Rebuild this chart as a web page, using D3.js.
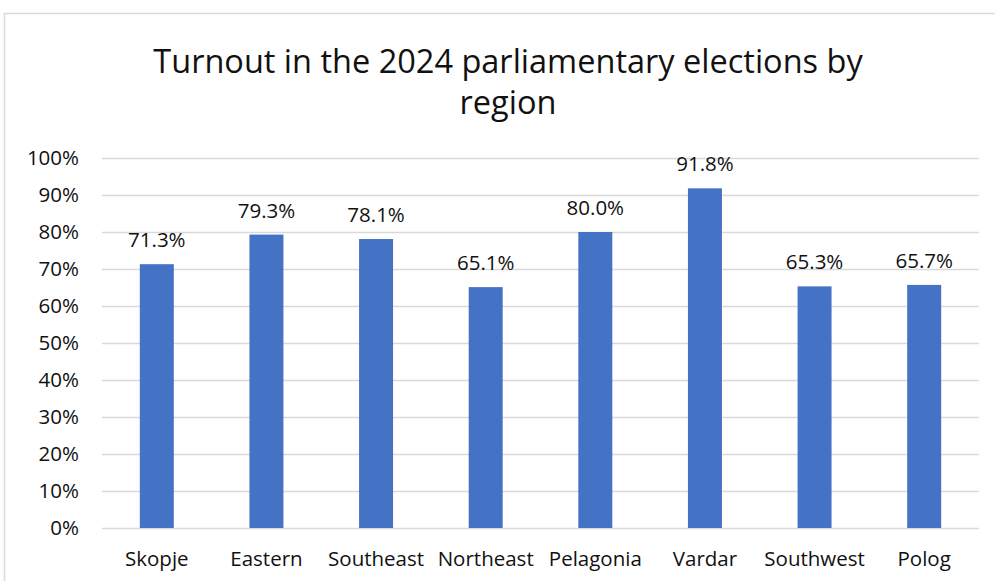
<!DOCTYPE html>
<html>
<head>
<meta charset="utf-8">
<script src="https://cdn.jsdelivr.net/npm/d3@7"></script>
<style>
  html, body { margin: 0; padding: 0; background: #fff; }
  svg { display: block; }
  text { font-family: "Open Sans", "Liberation Sans", sans-serif; fill: #111; }
</style>
</head>
<body>
<svg id="chart" width="995" height="581"></svg>
<script>
// Turnout by region (share of registered voters)
const regions = ["Skopje", "Eastern", "Southeast", "Northeast", "Pelagonia", "Vardar", "Southwest", "Polog"];
const turnout = [71.3, 79.3, 78.1, 65.1, 80.0, 91.8, 65.3, 65.7];
const yTicks = [0, 10, 20, 30, 40, 50, 60, 70, 80, 90, 100];
const titleLines = ["Turnout in the 2024 parliamentary elections by", "region"];

const W = 995, H = 581;
const margin = { left: 102, right: 16, top: 158, bottom: 53 };
const labelSize = 20.5;
const svg = d3.select("#chart");

// chart frame
svg.append("rect")
  .attr("x", 4.5).attr("y", 13.5)
  .attr("width", W + 10).attr("height", H + 10)
  .attr("fill", "#fff").attr("stroke", "#d9d9d9").attr("stroke-width", 1.5);

const x = d3.scaleBand()
  .domain(regions)
  .range([margin.left, W - margin.right])
  .paddingInner(0.69).paddingOuter(0.345);

const y = d3.scaleLinear()
  .domain([0, 100])
  .range([H - margin.bottom, margin.top]);

// gridlines + y labels
const yAxis = svg.append("g")
  .attr("transform", `translate(${margin.left},0)`)
  .call(d3.axisLeft(y).tickValues(yTicks).tickFormat(d => d + "%")
    .tickSize(-(W - margin.right - margin.left)).tickPadding(23));
yAxis.select(".domain").remove();
yAxis.selectAll(".tick line").attr("stroke", "#d9d9d9").attr("stroke-width", 1.5);
yAxis.selectAll(".tick text")
  .attr("font-size", labelSize).attr("fill", "#111")
  .style("font-family", "'Open Sans', sans-serif");

// bars
svg.append("g").selectAll("rect")
  .data(regions)
  .join("rect")
  .attr("x", d => x(d))
  .attr("width", x.bandwidth())
  .attr("y", (d, i) => y(turnout[i]))
  .attr("height", (d, i) => y(0) - y(turnout[i]))
  .attr("fill", "#4472c4");

// value labels
svg.append("g").selectAll("text")
  .data(regions)
  .join("text")
  .attr("x", d => x(d) + x.bandwidth() / 2)
  .attr("y", (d, i) => y(turnout[i]) - 17)
  .attr("text-anchor", "middle")
  .attr("font-size", labelSize)
  .text((d, i) => turnout[i].toFixed(1) + "%");

// category axis
const xAxis = svg.append("g")
  .attr("transform", `translate(0,${H - margin.bottom})`)
  .call(d3.axisBottom(x).tickSize(0).tickPadding(23));
xAxis.select(".domain").remove();
xAxis.selectAll(".tick text")
  .attr("font-size", labelSize).attr("fill", "#111")
  .style("font-family", "'Open Sans', sans-serif");

// title
svg.append("text")
  .attr("x", 508).attr("y", 73)
  .attr("text-anchor", "middle")
  .attr("font-size", 32.5)
  .selectAll("tspan")
  .data(titleLines)
  .join("tspan")
  .attr("x", 508)
  .attr("dy", (d, i) => i === 0 ? 0 : 41)
  .text(d => d);
</script>
</body>
</html>
